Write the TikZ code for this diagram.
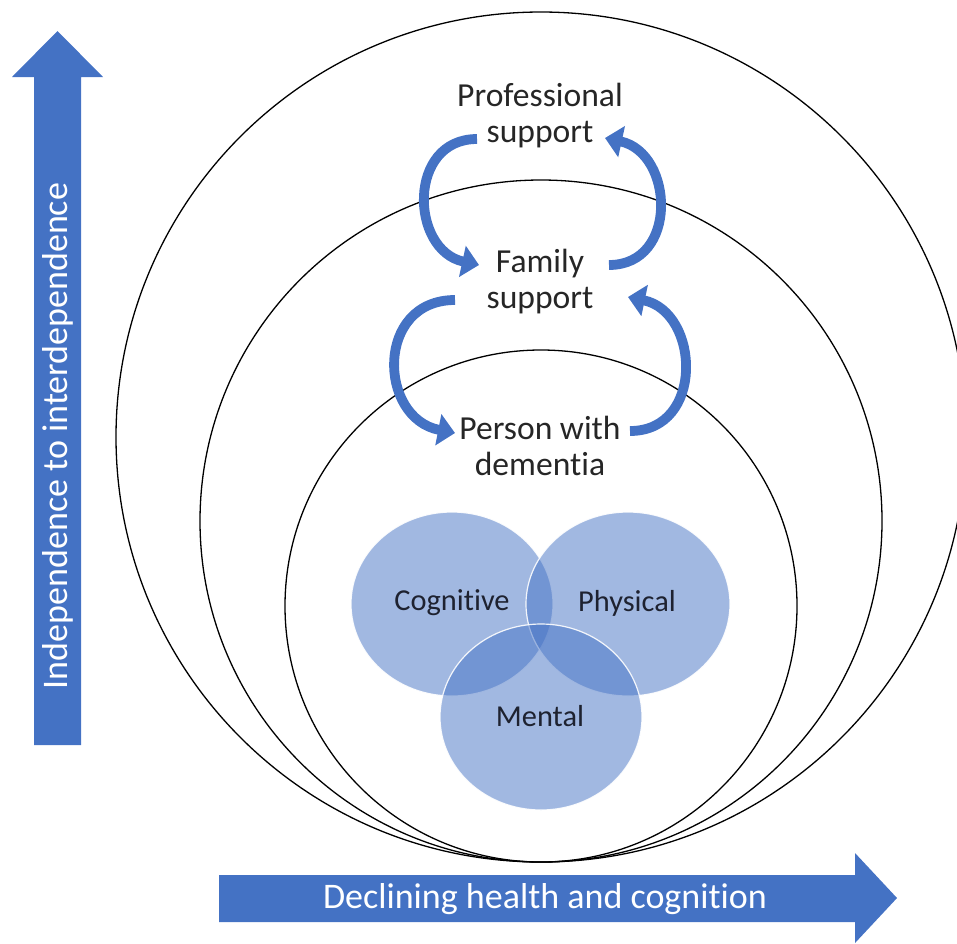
\documentclass[tikz,border=0pt]{standalone}
\usepackage{fontspec}
\setmainfont{Carlito}[Ligatures=NoCommon]
\usepackage{tikz}
\usetikzlibrary{arrows.meta,calc}
\definecolor{mblue}{RGB}{68,114,196}
\definecolor{ink}{RGB}{38,38,38}
\definecolor{vink}{RGB}{30,34,48}
\tikzset{
  ring/.style={draw=black, line width=0.65pt},
  venn/.style={fill=mblue, fill opacity=0.5, draw=white, draw opacity=0.9, line width=0.6pt},
  lbl/.style={font=\fontsize{16.8}{18}\selectfont, align=center, text=ink, inner sep=0pt},
  vlbl/.style={font=\fontsize{15.2}{17}\selectfont, text=vink, inner sep=0pt},
  bigarrow/.style={fill=mblue},
  arrowtext/.style={font=\fontsize{18}{20}\selectfont, text=white, inner sep=0pt},
  cycarrow/.style={draw=mblue, line width=4.9pt, -{Triangle[length=8.5pt,width=15.5pt]}},
}

\begin{document}
\begin{tikzpicture}[x=0.5pt, y=-0.5pt]
    \useasboundingbox (0,0) rectangle (957,943);
    \clip (0,0) rectangle (957,943);
    % nested spheres, all touching at the bottom
    \draw[ring] (541,437) circle[radius=425];
    \draw[ring] (541,521) circle[radius=341];
    \draw[ring] (541,606) circle[radius=256];
    % three overlapping domains
    \fill[venn] (452,604) ellipse[x radius=101, y radius=92];
    \fill[venn] (628,604) ellipse[x radius=102, y radius=92];
    \fill[venn] (541,717) ellipse[x radius=101, y radius=93];
    \node[vlbl] (cog) at (452,603) {Cognitive};
    \node[vlbl] (phys) at (627,603) {Physical};
    \node[vlbl] (ment) at (540,716) {Mental};
    \node[lbl] (prof) at (540,116) {Professional\\support};
    \node[lbl] (fam) at (540,282) {Family\\support};
    \node[lbl] (pwd) at (540,446) {Person with\\dementia};
    % support loops
    \draw[cycarrow] ($(prof)+(-63,23)$) .. controls +(-70,0) and +(-69,-15) .. ($(fam)+(-61,-17)$);
    \draw[cycarrow] ($(fam)+(69,-17)$) .. controls +(70,0) and +(69,15) .. ($(prof)+(65,22)$);
    \draw[cycarrow] ($(fam)+(-85,18)$) .. controls +(-80,0) and +(-77,-15) .. ($(pwd)+(-85,-13)$);
    \draw[cycarrow] ($(pwd)+(90,-15)$) .. controls +(75,0) and +(72,15) .. ($(fam)+(88,15)$);
    % axes
    \fill[bigarrow] (34,745) -- (34,77) -- (12,77) -- (57.5,31) -- (103,77) -- (81,77) -- (81,745) -- cycle;
    \node[arrowtext, rotate=90] (indep) at (57.5,436) {Independence to interdependence};
    \fill[bigarrow] (219,875) -- (855,875) -- (855,853) -- (897,898) -- (855,943) -- (855,922) -- (219,922) -- cycle;
    \node[arrowtext] (decl) at (545,899) {Declining health and cognition};
\end{tikzpicture}
\end{document}
